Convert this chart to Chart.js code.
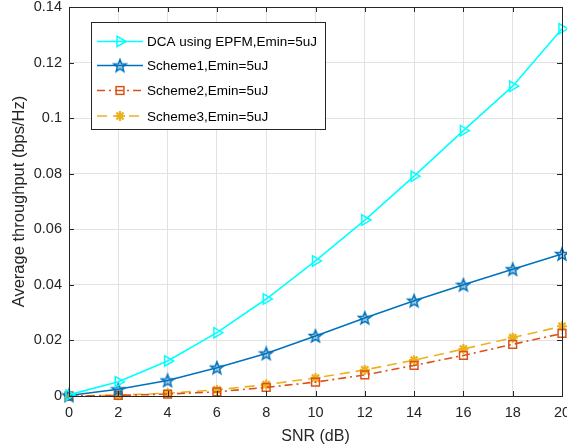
<!DOCTYPE html>
<html>
<head>
<meta charset="utf-8">
<script src="https://cdn.jsdelivr.net/npm/chart.js@4/dist/chart.umd.min.js"></script>
<style>
  body { margin: 0; background: #fff; }
  canvas { display: block; }
</style>
</head>
<body>
<canvas id="chart" width="567" height="446"></canvas>
<script>
// values
const snr = [0, 2, 4, 6, 8, 10, 12, 14, 16, 18, 20];
const dca = [0.0004, 0.0051, 0.0126, 0.0228, 0.0349, 0.0486, 0.0633, 0.0791, 0.0955, 0.1115, 0.1322];
const scheme1 = [0.0002, 0.0024, 0.0056, 0.0102, 0.0153, 0.0216, 0.0281, 0.0343, 0.0400, 0.0456, 0.0511];
const scheme2 = [0, 0.0002, 0.0007, 0.0015, 0.0031, 0.0050, 0.0076, 0.0110, 0.0146, 0.0186, 0.0225];
const scheme3 = [0, 0.0003, 0.0010, 0.0022, 0.0041, 0.0065, 0.0094, 0.0129, 0.0169, 0.0210, 0.0251];
const seriesNames = ['DCA using EPFM,Emin=5uJ', 'Scheme1,Emin=5uJ', 'Scheme2,Emin=5uJ', 'Scheme3,Emin=5uJ'];
const xTicks = [0, 2, 4, 6, 8, 10, 12, 14, 16, 18, 20];
const yTicks = [0, 0.02, 0.04, 0.06, 0.08, 0.1, 0.12, 0.14];

const FONT = '"Liberation Sans", Arial, sans-serif';
const AXIS = '#262626';
const colors = ['#00ffff', '#0072bd', '#d95319', '#edb120'];
const dashes = [[], [], [8, 4, 2, 4], [10, 6]];

// pentagram marker, chart.js has no 5-point star
function makeStar(color) {
    let c = document.createElement('canvas');
    c.width = 16; c.height = 16;
    let g = c.getContext('2d');
    g.beginPath();
    for (let i = 0; i < 10; i++) {
        let r = i % 2 === 0 ? 6.5 : 2.8;
        let a = -Math.PI / 2 + i * Math.PI / 5;
        let px = 8 + r * Math.cos(a), py = 8.5 + r * Math.sin(a);
        if (i === 0) g.moveTo(px, py); else g.lineTo(px, py);
    }
    g.closePath();
    g.fillStyle = 'rgba(0,114,189,0.35)';
    g.fill();
    g.strokeStyle = color;
    g.lineWidth = 1.5;
    g.stroke();
    return c;
}
const starImg = makeStar(colors[1]);

function pts(arr) {
    return snr.map((x, i) => ({x: x, y: arr[i]}));
}

const datasets = [
    {label: seriesNames[0], data: pts(dca), borderColor: colors[0], pointStyle: 'triangle', rotation: 90,
     pointRadius: 6, pointBorderWidth: 1.5},
    {label: seriesNames[1], data: pts(scheme1), borderColor: colors[1], pointStyle: starImg,
     pointRadius: 7, pointBorderWidth: 1.5},
    {label: seriesNames[2], data: pts(scheme2), borderColor: colors[2], pointStyle: 'rect',
     pointRadius: 5.5, pointBorderWidth: 1.5, borderDash: dashes[2]},
    {label: seriesNames[3], data: pts(scheme3), borderColor: colors[3], pointStyle: 'star',
     pointRadius: 5, pointBorderWidth: 2.2, borderDash: dashes[3]}
].map(d => Object.assign({
    borderWidth: 1.6, backgroundColor: 'transparent', pointBackgroundColor: 'transparent',
    pointBorderColor: d.borderColor, tension: 0, clip: false
}, d));

function drawMarker(ctx, i, x, y) {
    ctx.save();
    ctx.strokeStyle = colors[i];
    ctx.lineWidth = 1.5;
    ctx.setLineDash([]);
    ctx.beginPath();
    if (i === 0) {
        ctx.moveTo(x + 6, y);
        ctx.lineTo(x - 3, y - 5.2);
        ctx.lineTo(x - 3, y + 5.2);
        ctx.closePath();
        ctx.stroke();
    } else if (i === 1) {
        ctx.drawImage(starImg, x - 8, y - 8);
    } else if (i === 2) {
        ctx.strokeRect(x - 3.9, y - 3.9, 7.8, 7.8);
    } else {
        ctx.lineWidth = 2.2;
        for (let k = 0; k < 4; k++) {
            let a = k * Math.PI / 4;
            ctx.moveTo(x - 5 * Math.cos(a), y - 5 * Math.sin(a));
            ctx.lineTo(x + 5 * Math.cos(a), y + 5 * Math.sin(a));
        }
        ctx.stroke();
    }
    ctx.restore();
}

const framePlugin = {
    id: 'frame',
    afterDraw(chart) {
        const ctx = chart.ctx;
        const a = chart.chartArea;
        const xs = chart.scales.x, ys = chart.scales.y;
        ctx.save();
        ctx.strokeStyle = AXIS;
        ctx.lineWidth = 1;
        ctx.strokeRect(Math.round(a.left) + 0.5, Math.round(a.top) + 0.5,
            Math.round(a.right - a.left), Math.round(a.bottom - a.top));
        ctx.beginPath();
        for (let t of xTicks) {
            let px = Math.round(xs.getPixelForValue(t)) + 0.5;
            ctx.moveTo(px, a.bottom); ctx.lineTo(px, a.bottom - 5);
            ctx.moveTo(px, a.top); ctx.lineTo(px, a.top + 5);
        }
        for (let t of yTicks) {
            let py = Math.round(ys.getPixelForValue(t)) + 0.5;
            ctx.moveTo(a.left, py); ctx.lineTo(a.left + 5, py);
            ctx.moveTo(a.right, py); ctx.lineTo(a.right - 5, py);
        }
        ctx.stroke();

        // legend box
        const lx = 91.5, ly = 22.5, lw = 234, lh = 107;
        ctx.fillStyle = '#fff';
        ctx.fillRect(lx, ly, lw, lh);
        ctx.strokeRect(lx, ly, lw, lh);
        const rows = [41.5, 65.5, 90.5, 116];
        ctx.font = '13.5px ' + FONT;
        ctx.textBaseline = 'middle';
        for (let i = 0; i < 4; i++) {
            let y = rows[i];
            ctx.save();
            ctx.strokeStyle = colors[i];
            ctx.lineWidth = 1.6;
            ctx.setLineDash(dashes[i]);
            ctx.beginPath();
            ctx.moveTo(97, y); ctx.lineTo(143, y);
            ctx.stroke();
            ctx.restore();
            drawMarker(ctx, i, 120, y);
            ctx.fillStyle = '#000';
            ctx.fillText(seriesNames[i], 147, y + 1);
        }
        ctx.restore();
    }
};

new Chart(document.getElementById('chart'), {
    type: 'line',
    data: {datasets: datasets},
    options: {
        responsive: false,
        animation: false,
        devicePixelRatio: 1,
        layout: {autoPadding: false, padding: {top: 7, right: 5, left: 0, bottom: 0}},
        plugins: {legend: {display: false}, tooltip: {enabled: false}},
        scales: {
            x: {
                type: 'linear', min: 0, max: 20,
                afterFit(s) { s.height = 50; s.paddingLeft = 0; s.paddingRight = 0; },
                afterBuildTicks(s) { s.ticks = xTicks.map(v => ({value: v})); },
                grid: {color: '#e2e2e2', drawTicks: false},
                border: {display: false},
                ticks: {color: AXIS, padding: 8, maxRotation: 0, font: {family: FONT, size: 14.5}},
                title: {display: true, text: 'SNR (dB)', color: AXIS, padding: {top: 0, bottom: 0},
                        font: {family: FONT, size: 16}}
            },
            y: {
                min: 0, max: 0.14,
                afterFit(s) { s.width = 69; s.paddingTop = 0; s.paddingBottom = 0; },
                afterBuildTicks(s) { s.ticks = yTicks.map(v => ({value: v})); },
                grid: {color: '#e2e2e2', drawTicks: false},
                border: {display: false},
                ticks: {color: AXIS, padding: 7, font: {family: FONT, size: 14.5},
                        callback: v => String(+v.toFixed(2))},
                title: {display: true, text: 'Average throughput (bps/Hz)', color: AXIS,
                        padding: {top: 10, bottom: 0}, font: {family: FONT, size: 16.5}}
            }
        }
    },
    plugins: [framePlugin]
});
</script>
</body>
</html>
